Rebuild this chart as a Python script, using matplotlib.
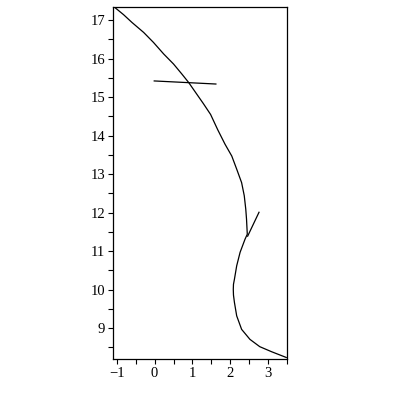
import matplotlib
matplotlib.use("Agg")
import matplotlib.pyplot as plt
from matplotlib.ticker import MultipleLocator

# main curve
curve_x = [-1.09, -1.03, -0.82, -0.60, -0.29, -0.03, 0.24, 0.50, 0.72, 0.90,
           1.07, 1.29, 1.48, 1.67, 1.86, 2.04, 2.17, 2.30, 2.37, 2.41,
           2.43, 2.45, 2.39, 2.26, 2.17, 2.11, 2.085, 2.08, 2.085, 2.11, 2.17,
           2.30, 2.52, 2.78, 3.09, 3.48]
curve_y = [17.36, 17.31, 17.14, 16.94, 16.68, 16.42, 16.12, 15.86, 15.60, 15.38,
           15.14, 14.83, 14.55, 14.15, 13.78, 13.47, 13.13, 12.78, 12.44,
           12.09, 11.83, 11.44, 11.31, 10.97, 10.62, 10.27, 10.14, 10.01, 9.86,
           9.67, 9.32, 8.97, 8.71, 8.52, 8.39, 8.24]

# tangent segment
tan_x = [2.76, 2.46]
tan_y = [12.01, 11.39]

# near-horizontal segment
hor_x = [-0.01, 1.62]
hor_y = [15.42, 15.34]

xticks = [-1, 0, 1, 2, 3]
yticks = [9, 10, 11, 12, 13, 14, 15, 16, 17]

plt.rcParams['font.family'] = ['Liberation Serif', 'DejaVu Serif']

fig = plt.figure(figsize=(4, 4), dpi=100)
ax = fig.add_axes([0.2825, 0.1025, 0.435, 0.88])

lw = 0.9
ax.plot(curve_x, curve_y, color='black', lw=lw)
ax.plot(tan_x, tan_y, color='black', lw=lw)
ax.plot(hor_x, hor_y, color='black', lw=lw)

ax.set_xlim(-1.1, 3.5)
ax.set_ylim(8.2, 17.34)
ax.set_xticks(xticks)
ax.set_yticks(yticks)
ax.xaxis.set_minor_locator(MultipleLocator(0.5))
ax.yaxis.set_minor_locator(MultipleLocator(0.5))
ax.tick_params(which='both', direction='out', length=3.5, width=0.8,
               labelsize=10.5, top=False, right=False, pad=2)
for s in ax.spines.values():
    s.set_linewidth(0.9)

fig.savefig("out.png", dpi=100)
